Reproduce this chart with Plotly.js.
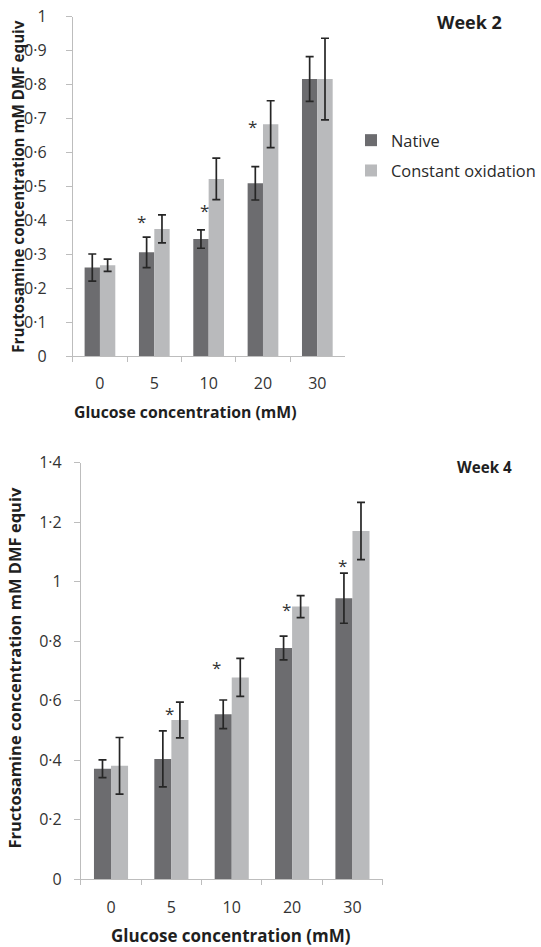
<!DOCTYPE html>
<html>
<head>
<meta charset="utf-8">
<script src="https://cdn.plot.ly/plotly-3.0.1.min.js"></script>
<style>html,body{margin:0;padding:0;background:#fff;}#chart{width:541px;height:947px;}</style>
</head>
<body>
<div id="chart"></div>
<script>
// ---- data ----
const categories = ['0', '5', '10', '20', '30'];

const week2Native = [0.261, 0.306, 0.345, 0.509, 0.816];
const week2NativeErr = [0.040, 0.045, 0.027, 0.049, 0.066];
const week2Oxid = [0.268, 0.375, 0.522, 0.683, 0.816];
const week2OxidErr = [0.018, 0.041, 0.061, 0.069, 0.120];

const week4Native = [0.371, 0.404, 0.554, 0.777, 0.944];
const week4NativeErr = [0.030, 0.094, 0.048, 0.040, 0.084];
const week4Oxid = [0.381, 0.535, 0.678, 0.916, 1.170];
const week4OxidErr = [0.095, 0.060, 0.064, 0.037, 0.096];

const week2TickVals = [0, 0.1, 0.2, 0.3, 0.4, 0.5, 0.6, 0.7, 0.8, 0.9, 1];
const week2TickText = ['0', '0·1', '0·2', '0·3', '0·4', '0·5', '0·6', '0·7', '0·8', '0·9', '1'];
const week4TickVals = [0, 0.2, 0.4, 0.6, 0.8, 1, 1.2, 1.4];
const week4TickText = ['0', '0·2', '0·4', '0·6', '0·8', '1', '1·2', '1·4'];

// significance markers: [category, y value]
const week2Stars = [['5', 0.409], ['10', 0.44], ['20', 0.689]];
const week4Stars = [['5', 0.569], ['10', 0.726], ['20', 0.921], ['30', 1.067]];

const seriesNames = ['Native', 'Constant oxidation'];
const xTitle = 'Glucose concentration (mM)';
const yTitle = 'Fructosamine concentration mM DMF equiv';

// ---- styling ----
const W = 541, H = 947;
const FONT = '"Open Sans", "Liberation Sans", sans-serif';
const cNative = '#6c6c6f';
const cOxid = '#b9babc';
const errStyle = {color: '#262626', thickness: 1.7, width: 4};
const TXT = '#1f1f1f';

function bar(x, y, err, name, color, xa, ya, show) {
  return {
    type: 'bar', x: x, y: y, name: name, xaxis: xa, yaxis: ya,
    marker: {color: color, line: {width: 0}},
    error_y: Object.assign({type: 'data', array: err, visible: true}, errStyle),
    showlegend: show, legendgroup: name, hoverinfo: 'skip'
  };
}

const traces = [
  bar(categories, week2Native, week2NativeErr, seriesNames[0], cNative, 'x', 'y', true),
  bar(categories, week2Oxid, week2OxidErr, seriesNames[1], cOxid, 'x', 'y', true),
  bar(categories, week4Native, week4NativeErr, seriesNames[0], cNative, 'x2', 'y2', false),
  bar(categories, week4Oxid, week4OxidErr, seriesNames[1], cOxid, 'x2', 'y2', false)
];

const px = v => v / W;
const py = v => 1 - v / H;

const xBase = {
  type: 'category', showline: true, linecolor: '#bdbdbd', linewidth: 1,
  ticks: 'outside', tickson: 'boundaries', ticklen: 5, tickcolor: '#bdbdbd',
  showgrid: false, zeroline: false, fixedrange: true,
  categoryorder: 'array', categoryarray: categories, range: [-0.5, categories.length - 0.5]
};
const yBase = {
  showline: true, linecolor: '#bdbdbd', linewidth: 1,
  ticks: 'outside', ticklen: 6, tickcolor: '#bdbdbd',
  showgrid: false, zeroline: false, fixedrange: true, tickmode: 'array'
};

const annotations = [];
function star(cat, y, xa, ya, shift) {
  annotations.push({xref: xa, yref: ya, x: categories.indexOf(cat), y: y, text: '*', showarrow: false,
    xshift: shift, yshift: -4, font: {family: FONT, size: 17, color: '#333333'}});
}
const w2Shift = {'5': -13, '10': -4, '20': -10};
week2Stars.forEach(s => star(s[0], s[1], 'x', 'y', w2Shift[s[0]]));
const w4Shift = {'5': -2, '10': -15, '20': -6, '30': -10};
week4Stars.forEach(s => star(s[0], s[1], 'x2', 'y2', w4Shift[s[0]]));

// axis titles
annotations.push({xref: 'paper', yref: 'paper', x: px(19), y: py(186.4), text: '<b>' + yTitle + '</b>',
  textangle: -90, showarrow: false, xanchor: 'center', yanchor: 'middle',
  font: {family: FONT, size: 15.2, color: TXT}});
annotations.push({xref: 'paper', yref: 'paper', x: px(191.6), y: py(411.7), text: '<b>' + xTitle + '</b>',
  showarrow: false, xanchor: 'center', yanchor: 'middle',
  font: {family: FONT, size: 15.8, color: TXT}});
annotations.push({xref: 'paper', yref: 'paper', x: px(14), y: py(668), text: '<b>' + yTitle + '</b>',
  textangle: -90, showarrow: false, xanchor: 'center', yanchor: 'middle',
  font: {family: FONT, size: 16.5, color: TXT}});
annotations.push({xref: 'paper', yref: 'paper', x: px(238.5), y: py(935), text: '<b>' + xTitle + '</b>',
  showarrow: false, xanchor: 'center', yanchor: 'middle',
  font: {family: FONT, size: 17, color: TXT}});
// panel labels
annotations.push({xref: 'paper', yref: 'paper', x: px(519), y: py(22), text: '<b>Week 2</b>',
  showarrow: false, xanchor: 'right', yanchor: 'middle',
  font: {family: FONT, size: 18, color: TXT}});
annotations.push({xref: 'paper', yref: 'paper', x: px(530), y: py(467), text: '<b>Week 4</b>',
  showarrow: false, xanchor: 'right', yanchor: 'middle',
  font: {family: FONT, size: 15.2, color: TXT}});

const layout = {
  width: W, height: H, autosize: false,
  margin: {l: 0, r: 0, t: 0, b: 0, pad: 0},
  paper_bgcolor: '#ffffff', plot_bgcolor: '#ffffff',
  font: {family: FONT, color: '#333333'},
  barmode: 'group', bargap: 0.435, bargroupgap: 0,
  showlegend: true,
  legend: {x: px(362), y: py(123), xanchor: 'left', yanchor: 'top',
    bgcolor: 'rgba(0,0,0,0)', borderwidth: 0, tracegroupgap: 6,
    font: {family: FONT, size: 16.4, color: '#2a2a2a'}, traceorder: 'grouped'},
  xaxis: Object.assign({}, xBase, {domain: [px(75), px(355)], anchor: 'y', ticklabelstandoff: 12,
    tickfont: {family: FONT, size: 16, color: '#333333'}}),
  yaxis: Object.assign({}, yBase, {domain: [py(356.3), py(16.5)], anchor: 'x', range: [0, 1],
    tickvals: week2TickVals, ticktext: week2TickText, ticklabelstandoff: 16,
    tickfont: {family: FONT, size: 16, color: '#333333'}}),
  xaxis2: Object.assign({}, xBase, {domain: [px(83.3), px(394.3)], anchor: 'y2', ticklabelstandoff: 14,
    tickfont: {family: FONT, size: 16, color: '#333333'}}),
  yaxis2: Object.assign({}, yBase, {domain: [py(879.2), py(462.5)], anchor: 'x2', range: [0, 1.4],
    tickvals: week4TickVals, ticktext: week4TickText, ticklabelstandoff: 9,
    tickfont: {family: FONT, size: 16, color: '#333333'}}),
  annotations: annotations
};

Plotly.newPlot('chart', traces, layout, {staticPlot: true, displayModeBar: false});
</script>
</body>
</html>
